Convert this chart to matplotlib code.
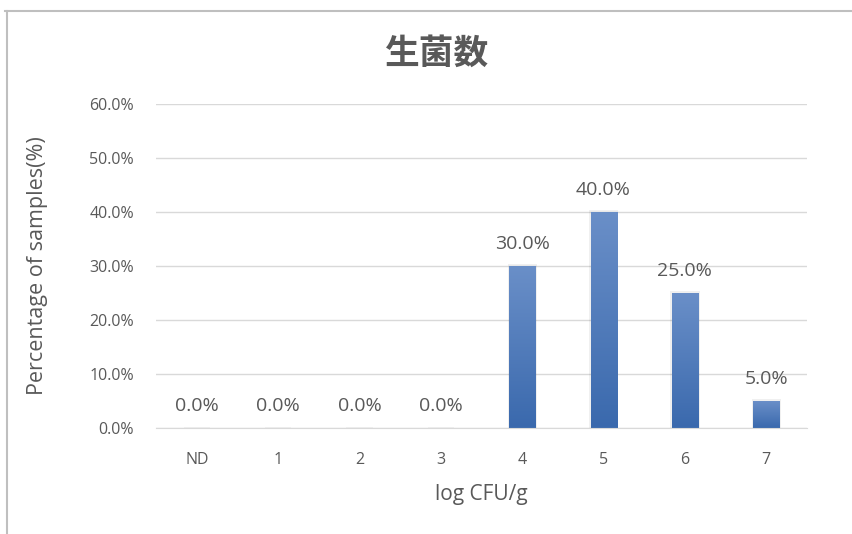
import numpy as np
import matplotlib.pyplot as plt
from matplotlib.colors import LinearSegmentedColormap
from matplotlib.lines import Line2D
from matplotlib.ticker import FuncFormatter

categories = ['ND', '1', '2', '3', '4', '5', '6', '7']
percent = [0.0, 0.0, 0.0, 0.0, 30.0, 40.0, 25.0, 5.0]

title = '生菌数'
xlabel = 'log CFU/g'
ylabel = 'Percentage of samples(%)'

plt.rcParams['font.family'] = ['Open Sans', 'Noto Sans CJK JP', 'DejaVu Sans']
gray = '#595959'
grid_col = '#d9d9d9'
bar_width = 0.32

fig = plt.figure(figsize=(8.53, 5.34), dpi=100)
ax = fig.add_axes([0.183, 0.1985, 0.763, 0.6067])

# blue gradient, lighter at the top of each bar
cmap = LinearSegmentedColormap.from_list('bar', ['#3a69ad', '#6a8fc8'])
grad = np.linspace(0, 1, 256).reshape(-1, 1)

x = np.arange(len(categories))
bars = ax.bar(x, percent, width=bar_width, color='none', edgecolor='none', zorder=3)
for rect, v in zip(bars, percent):
    x0 = rect.get_x()
    if v > 0:
        # soft shadow behind bar
        ax.bar(x0 + bar_width / 2, v + 0.3, width=bar_width + 0.04,
               color='#000000', alpha=0.06, zorder=2)
        im = ax.imshow(grad, cmap=cmap, aspect='auto', origin='lower',
                       extent=[x0, x0 + bar_width, 0, v], zorder=3)
        im.set_clip_path(rect)
    else:
        ax.bar(x0 + bar_width / 2, 0.2, width=bar_width, color='#eeeeee', zorder=2)
    ax.text(x0 + bar_width / 2, v + 2.4, f'{v:.1f}%', ha='center', va='bottom',
            fontsize=14, color=gray, zorder=4)

ax.set_xlim(-0.5, len(categories) - 0.5)
ax.set_ylim(0, 60)
ax.set_yticks(np.arange(0, 61, 10))
ax.yaxis.set_major_formatter(FuncFormatter(lambda v, p: f'{v:.1f}%'))
ax.set_xticks(x)
ax.set_xticklabels(categories)
ax.tick_params(axis='both', length=0, labelsize=11.5, colors=gray)
ax.tick_params(axis='y', pad=16)
ax.tick_params(axis='x', pad=17)

ax.grid(axis='y', color=grid_col, linewidth=1, zorder=0)
ax.set_axisbelow(True)
for s in ['top', 'right', 'left']:
    ax.spines[s].set_visible(False)
ax.spines['bottom'].set_color(grid_col)
ax.spines['bottom'].set_zorder(5)

ax.set_xlabel(xlabel, fontsize=15, color=gray, labelpad=12)
ax.set_ylabel(ylabel, fontsize=15.5, color=gray, labelpad=30)
fig.text(0.513, 0.9, title, ha='center', va='center', fontsize=25,
         fontweight='bold', color=gray, family=['Noto Sans CJK JP', 'DejaVu Sans'])

# chart frame
fig.add_artist(Line2D([5 / 853, 1], [1 - 11 / 534] * 2, color='#bfbfbf', lw=1.5))
fig.add_artist(Line2D([7 / 853] * 2, [0, 1 - 11 / 534], color='#bfbfbf', lw=1.5))

fig.savefig('out.png', dpi=100)
